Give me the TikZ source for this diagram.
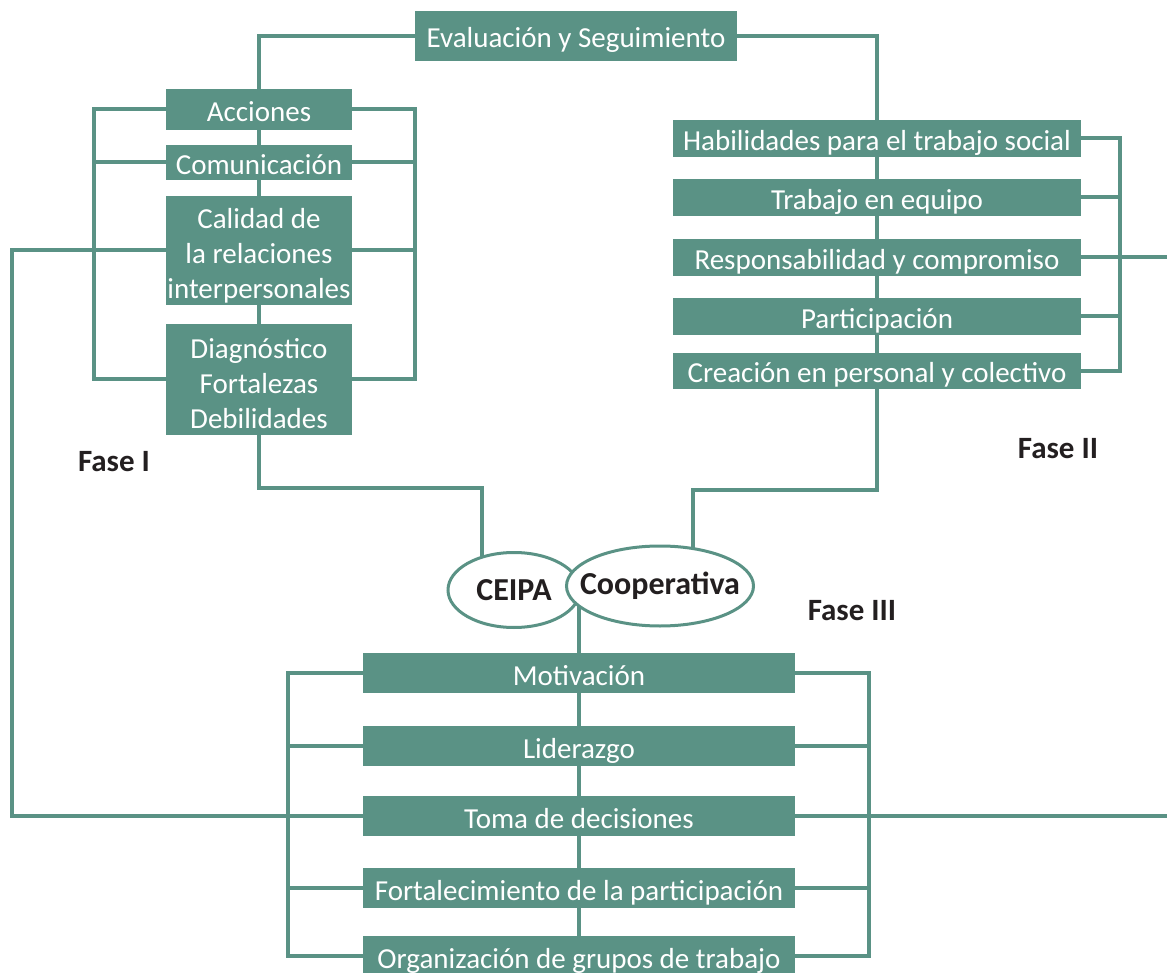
\documentclass[tikz,border=0pt]{standalone}
\usepackage{fontspec}
\setmainfont{Carlito}
\usetikzlibrary{shapes.geometric,backgrounds}
\definecolor{verde}{HTML}{5A9285}
\definecolor{gris}{HTML}{231F20}
\tikzset{
  cajaalta/.style={fill=verde,text=white,inner sep=0pt,align=center,font=\fontsize{29}{35}\selectfont},
  caja/.style={cajaalta,text height=24pt,text depth=0pt},
  linea/.style={draw=verde,line width=4pt},
  fase/.style={text=gris,font=\fontsize{31}{35}\selectfont\bfseries},
  elipse/.style={ellipse,draw=verde,line width=3pt,fill=white,inner sep=0pt},
  rotulo/.style={text=gris,font=\fontsize{32}{36}\selectfont\bfseries}
}

\begin{document}
\begin{tikzpicture}[x=1pt,y=-1pt]
    \useasboundingbox (0,0) rectangle (1167,973);

    % Evaluación arriba
    \node[caja,minimum width=322pt,minimum height=50pt] (eval) at (576,36) {Evaluación y Seguimiento};

    % Fase I
    \node[caja,minimum width=186pt,minimum height=41pt] (acciones) at (259,109.5) {Acciones};
    \node[caja,minimum width=186pt,minimum height=35pt] (comunicacion) at (259,162.5) {Comunicación};
    \node[cajaalta,minimum width=186pt,minimum height=109pt] (calidad) at (259,250.5) {\rule{0pt}{31pt}Calidad de\\la relaciones\\interpersonales};
    \node[cajaalta,minimum width=186pt,minimum height=111pt] (diagnostico) at (259,379.5) {\rule{0pt}{27.5pt}Diagnóstico\\Fortalezas\\Debilidades};
    \node[fase] (fase1) at (114,462) {Fase I};

    % Fase II
    \node[caja,minimum width=408pt,minimum height=37pt] (habilidades) at (877,138.5) {Habilidades para el trabajo social};
    \node[caja,minimum width=408pt,minimum height=37pt] (trabajo) at (877,197.5) {Trabajo en equipo};
    \node[caja,minimum width=408pt,minimum height=37pt] (responsabilidad) at (877,257.5) {Responsabilidad y compromiso};
    \node[caja,minimum width=408pt,minimum height=37pt] (participacion) at (877,316.5) {Participación};
    \node[caja,minimum width=408pt,minimum height=36pt] (creacion) at (877,371) {Creación en personal y colectivo};
    \node[fase] (fase2) at (1058,449) {Fase II};

    % CEIPA y Cooperativa
    \node[elipse,minimum width=132pt,minimum height=75pt] (ceipa) at (514,590) {};
    \node[elipse,minimum width=187pt,minimum height=80pt] (coop) at (660,586) {};
    \node[rotulo] at (ceipa) {CEIPA};
    \node[rotulo] at (coop) {Cooperativa};
    \node[fase] (fase3) at (852,611) {Fase III};

    % Fase III
    \node[caja,minimum width=432pt,minimum height=40pt] (motivacion) at (579,673) {Motivación};
    \node[caja,minimum width=432pt,minimum height=40pt] (liderazgo) at (579,746) {Liderazgo};
    \node[caja,minimum width=432pt,minimum height=40pt] (toma) at (579,816) {Toma de decisiones};
    \node[caja,minimum width=432pt,minimum height=40pt] (fortalecimiento) at (579,888) {Fortalecimiento de la participación};
    \node[caja,minimum width=432pt,minimum height=40pt] (organizacion) at (579,956) {Organización de grupos de trabajo};

    % puntos de paso
    \coordinate (b1l) at (94,0);
    \coordinate (b1r) at (415,0);
    \coordinate (b2) at (1120,0);
    \coordinate (b3l) at (288,0);
    \coordinate (b3r) at (869,0);
    \coordinate (izq) at (12,0);
    \coordinate (der) at (1172,0);
    \coordinate (f1) at (482,488);
    \coordinate (f2) at (693,490);

    \begin{scope}[on background layer]
        % desde Evaluación
        \draw[linea] (eval.west) -| (acciones.north);
        \draw[linea] (eval.east) -| (habilidades.north);

        % Fase I
        \draw[linea] (acciones) -- (comunicacion) -- (calidad) -- (diagnostico);
        \draw[linea] (acciones) -| (diagnostico -| b1l) -- (diagnostico);
        \draw[linea] (acciones) -| (diagnostico -| b1r) -- (diagnostico);
        \foreach \n in {comunicacion,calidad} {
            \draw[linea] (\n -| b1l) -- (\n -| b1r);
        }
        \draw[linea] (diagnostico) |- (f1) -- (f1 |- ceipa);
        \draw[linea] (calidad) -| (toma -| izq) -- (toma);

        % Fase II
        \draw[linea] (habilidades) -- (trabajo) -- (responsabilidad) -- (participacion) -- (creacion);
        \draw[linea] (habilidades) -| (creacion -| b2) -- (creacion);
        \foreach \n in {trabajo,participacion} {
            \draw[linea] (\n) -- (\n -| b2);
        }
        \draw[linea] (responsabilidad) -- (responsabilidad -| der);
        \draw[linea] (creacion) |- (f2) -- (f2 |- coop);

        % Fase III
        \draw[linea] (motivacion |- coop) -- (motivacion) -- (liderazgo) -- (toma) -- (fortalecimiento) -- (organizacion);
        \draw[linea] (motivacion) -| (organizacion -| b3l) -- (organizacion);
        \draw[linea] (motivacion) -| (organizacion -| b3r) -- (organizacion);
        \foreach \n in {liderazgo,fortalecimiento} {
            \draw[linea] (\n -| b3l) -- (\n -| b3r);
        }
        \draw[linea] (toma) -- (toma -| der);
    \end{scope}
\end{tikzpicture}
\end{document}
